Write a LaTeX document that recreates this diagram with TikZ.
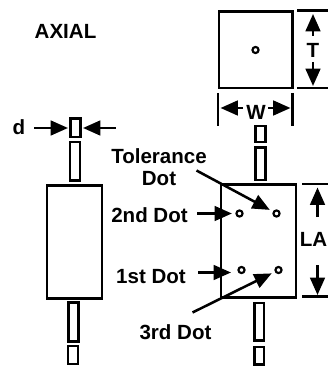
\documentclass[tikz,border=0pt]{standalone}
\usepackage{fontspec}
\setmainfont{Liberation Sans}
\usetikzlibrary{arrows.meta}
\tikzset{
	frame/.style={draw=black, line width=2.1pt},
	guide/.style={draw=black, line width=1.9pt},
	pointer/.style={black, line width=1.9pt, -{Triangle[length=13pt,width=11pt]}},
	tag/.style={font=\bfseries\fontsize{15.4}{15.4}\selectfont, inner sep=0pt, align=center},
	hole/.style={circle, draw=black, line width=1.6pt, inner sep=0pt, minimum size=4.6pt, outer sep=3.4pt}
}
\begin{document}
\begin{tikzpicture}[x=0.75pt, y=-0.75pt]
	\useasboundingbox (0,0) rectangle (328,366);

\foreach \xa/\ya/\xb/\yb in {219/11.5/292.5/88, 221/184.5/296/297.5, 47/185.5/102/298.5}
    \draw[frame] (\xa,\ya) rectangle (\xb,\yb);

\foreach \xa/\ya/\xb/\yb in {255.5/126/265.5/142, 255.5/147.5/265.5/180, 254.5/303/264/340.5, 254.5/347/264/364.5,
    70.5/118.5/80.5/137, 70/142/80/180.5, 68.5/302.5/78.5/341.5, 68/346/78/364}
    \draw[frame] (\xa,\ya) rectangle (\xb,\yb);

\coordinate (t top a) at (297,10.5);
\coordinate (t top b) at (328,10.5);
\coordinate (t bot a) at (297,88);
\coordinate (t bot b) at (328,88);
\coordinate (la top a) at (302,184);
\coordinate (la top b) at (328,184);
\coordinate (la bot a) at (302,296.5);
\coordinate (la bot b) at (328,296.5);
\coordinate (w left a) at (218,93);
\coordinate (w left b) at (218,126);
\coordinate (w right a) at (292.5,93);
\coordinate (w right b) at (292.5,126);
\draw[guide] (t top a) -- (t top b);
\draw[guide] (t bot a) -- (t bot b);
\draw[guide] (la top a) -- (la top b);
\draw[guide] (la bot a) -- (la bot b);
\draw[guide] (w left a) -- (w left b);
\draw[guide] (w right a) -- (w right b);

\node[tag] (axial) at (65.5,31) {AXIAL};
\node[tag] (dlabel) at (19,127.5) {d};
\node[tag] (tlabel) at (313,50) {T};
\node[tag] (wlabel) at (256,112) {W};
\node[tag, anchor=east] (lalabel) at (327.5,239) {LA};
\node[tag] (tolerance) at (159,167) {Tolerance\\[1pt]Dot};
\node[tag] (second) at (149.5,215) {2nd Dot};
\node[tag] (first) at (151,276.5) {1st Dot};
\node[tag] (third) at (175.5,332) {3rd Dot};

\node[hole] (center dot) at (255.5,50) {};
\node[hole] (second dot) at (239.5,213.5) {};
\node[hole] (tolerance dot) at (276.5,213.5) {};
\node[hole] (first dot) at (241.5,270) {};
\node[hole] (third dot) at (278.5,270) {};

\coordinate (d left) at (34,128);
\coordinate (d left tip) at (68,128);
\coordinate (d right) at (115.5,128);
\coordinate (d right tip) at (83,128);
\coordinate (t up start) at (313,36);
\coordinate (t up tip) at (313,14);
\coordinate (t down start) at (313,62);
\coordinate (t down tip) at (313,86);
\coordinate (w left start) at (243,108);
\coordinate (w left tip) at (220.5,108);
\coordinate (w right start) at (268,108);
\coordinate (w right tip) at (290.5,108);
\coordinate (la up start) at (317.5,217);
\coordinate (la up tip) at (317.5,187.5);
\coordinate (la down start) at (317.5,265);
\coordinate (la down tip) at (317.5,295);
\coordinate (tolerance start) at (196.5,170.5);
\coordinate (second start) at (197,213.5);
\coordinate (first start) at (198,272.5);
\coordinate (first tip) at (231,272.5);
\coordinate (third start) at (192.5,312.5);

\draw[pointer] (d left) -- (d left tip);
\draw[pointer] (d right) -- (d right tip);
\draw[pointer] (t up start) -- (t up tip);
\draw[pointer] (t down start) -- (t down tip);
\draw[pointer] (w left start) -- (w left tip);
\draw[pointer] (w right start) -- (w right tip);
\draw[pointer] (la up start) -- (la up tip);
\draw[pointer] (la down start) -- (la down tip);
\draw[pointer] (tolerance start) -- (tolerance dot);
\draw[pointer] (second start) -- (second dot);
\draw[pointer] (first start) -- (first tip);
\draw[pointer] (third start) -- (third dot);

\end{tikzpicture}
\end{document}
